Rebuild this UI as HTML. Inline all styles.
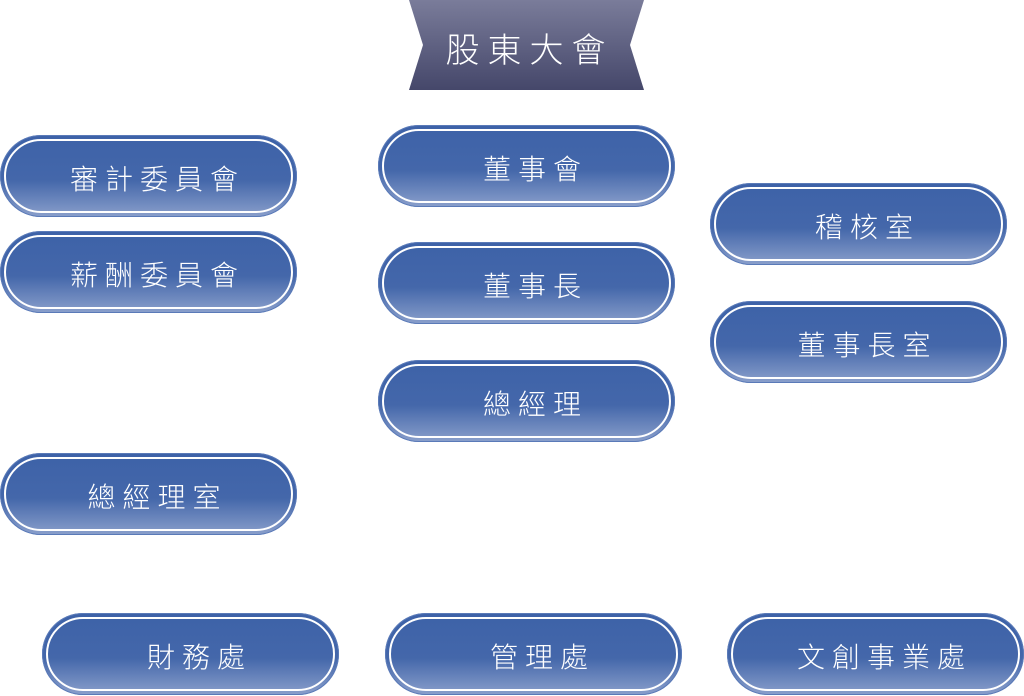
<!DOCTYPE html>
<html><head><meta charset="utf-8"><style>
body{margin:0;width:1024px;height:696px;background:#fff;position:relative;overflow:hidden;font-family:"Liberation Sans","Noto Sans CJK TC",sans-serif}
.p{position:absolute;width:297px;height:82px;box-sizing:border-box;border-radius:41px;background:linear-gradient(#3d62a8 0%,#4467aa 55%,#8a9fcb 100%);box-shadow:inset 0 0 0 1px #5a7ab8}
.p::before{content:"";position:absolute;left:4px;top:4px;right:4px;bottom:4px;border:2.5px solid #fff;border-radius:37px}
.p span{position:absolute;left:18px;right:0;top:3px;bottom:0;display:flex;align-items:center;justify-content:center;color:#fff;font-size:28px;font-weight:300;letter-spacing:7px}
.b{position:absolute;left:409px;top:0;width:235px;height:90px}
.b span{position:absolute;left:0;right:0;top:2px;height:90px;display:flex;align-items:center;justify-content:center;color:#fff;font-size:34px;font-weight:300;letter-spacing:8px;padding-left:6px}
</style></head><body>
<div class="b"><svg width="235" height="90"><defs><linearGradient id="g" x1="0" y1="0" x2="0" y2="1"><stop offset="0" stop-color="#7a7c9a"/><stop offset="1" stop-color="#45476a"/></linearGradient></defs><polygon points="0,0 235,0 221,45 235,90 0,90 14,45" fill="url(#g)"/></svg><span>股東大會</span></div>
<div class="p" style="left:0;top:135px"><span>審計委員會</span></div>
<div class="p" style="left:0;top:231px"><span>薪酬委員會</span></div>
<div class="p" style="left:378px;top:125px"><span>董事會</span></div>
<div class="p" style="left:378px;top:242px"><span>董事長</span></div>
<div class="p" style="left:378px;top:360px"><span>總經理</span></div>
<div class="p" style="left:710px;top:183px"><span>稽核室</span></div>
<div class="p" style="left:710px;top:301px"><span>董事長室</span></div>
<div class="p" style="left:0;top:453px"><span>總經理室</span></div>
<div class="p" style="left:42px;top:613px"><span>財務處</span></div>
<div class="p" style="left:385px;top:613px"><span>管理處</span></div>
<div class="p" style="left:727px;top:613px"><span>文創事業處</span></div>
</body></html>
